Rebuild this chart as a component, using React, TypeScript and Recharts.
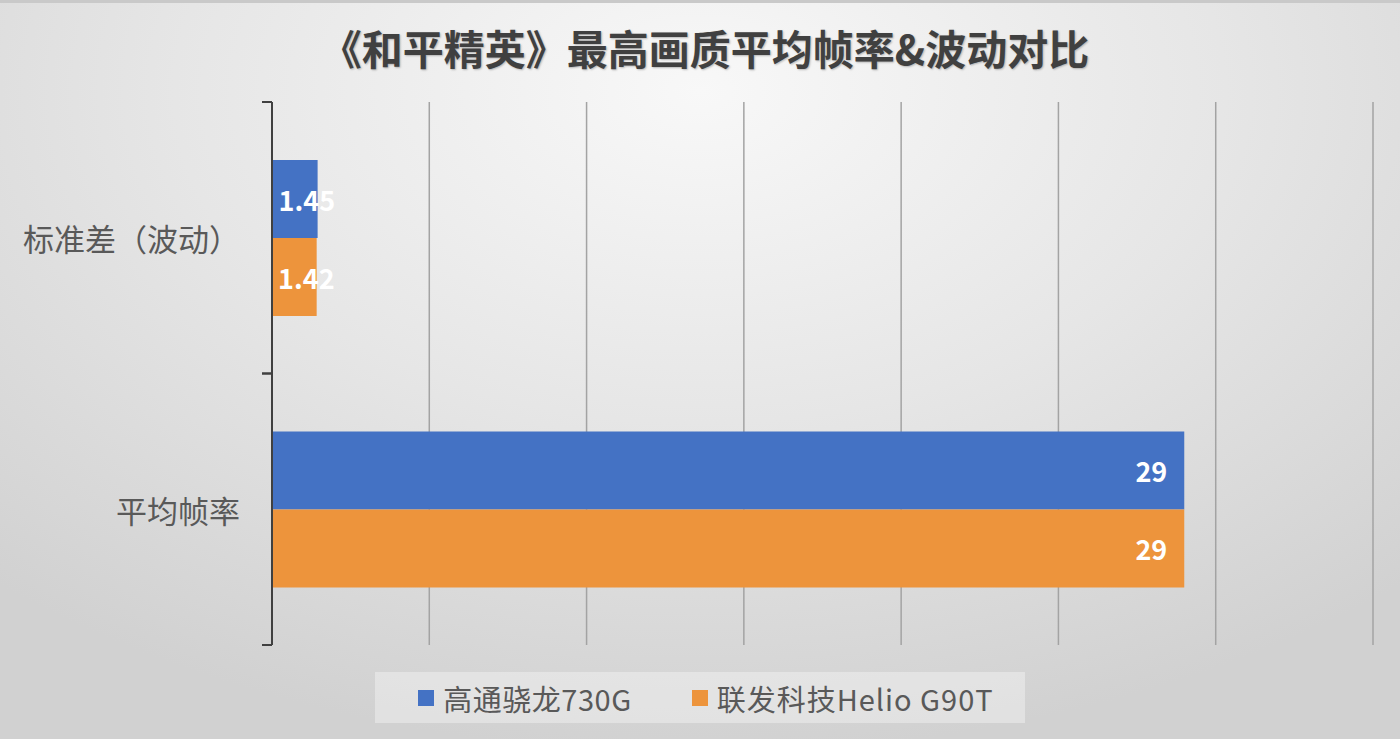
import React from "react";
import { BarChart, Bar, XAxis, YAxis, CartesianGrid, LabelList } from "recharts";

// categories (top to bottom) and series values
const categories = ["标准差（波动）", "平均帧率"];
const snapdragon730G = [1.45, 29];
const helioG90T = [1.42, 29];
const seriesNames = ["高通骁龙730G", "联发科技Helio G90T"];
const xTicks = [0, 5, 10, 15, 20, 25, 30, 35];

const colors = ["#4472C4", "#ED943C"];
const FONT = '"Noto Sans CJK SC", "Noto Sans", sans-serif';

const W = 1400;
const H = 739;
const MARGIN = { top: 102, right: 27, bottom: 94, left: 0 };
const BAND = (H - MARGIN.top - MARGIN.bottom) / categories.length;

const data = categories.map((name, i) => ({
  name,
  a: snapdragon730G[i],
  b: helioG90T[i],
}));

// category label + boundary tick marks (Excel-style ticks between categories)
const CategoryTick = (props: any) => {
  const { x, y, payload } = props;
  return (
    <g>
      <line x1={x - 10} x2={x} y1={y - BAND / 2} y2={y - BAND / 2} stroke="#404040" strokeWidth={2} />
      <line x1={x - 10} x2={x} y1={y + BAND / 2} y2={y + BAND / 2} stroke="#404040" strokeWidth={2} />
      <text x={x - 32} y={y} textAnchor="end" dominantBaseline="central" fill="#595959" fontSize={31} fontFamily={FONT}>
        {payload.value}
      </text>
    </g>
  );
};

const renderBarLabel = (props: any) => {
  const { x, y, width, height, value } = props;
  const fits = width > 80;
  const lx = fits ? x + width - 17 : x + width / 2 + 12;
  return (
    <text
      x={lx}
      y={y + height / 2}
      textAnchor={fits ? "end" : "middle"}
      dominantBaseline="central"
      fill="#fff"
      fontSize={27}
      fontWeight={700}
      fontFamily={FONT}
    >
      {value}
    </text>
  );
};

export default function App() {
  return (
    <div
      style={{
        position: "relative",
        width: W,
        height: H,
        background: "radial-gradient(ellipse 75% 90% at 50% 12%, #f8f8f8 0%, #e6e6e6 50%, #d1d1d1 100%)",
        borderTop: "3px solid #c9c9c9",
        boxSizing: "border-box",
        overflow: "hidden",
      }}
    >
      <style>{`body{margin:0}`}</style>
      <div
        style={{
          position: "absolute",
          top: 14,
          left: 0,
          width: 1410,
          textAlign: "center",
          fontFamily: FONT,
          fontWeight: 700,
          fontSize: 41,
          lineHeight: "60px",
          color: "#404040",
          textShadow: "1px 1px 2px rgba(0,0,0,0.25)",
        }}
      >
        《和平精英》最高画质平均帧率&波动对比
      </div>
      <div style={{ position: "absolute", top: -3, left: 0 }}>
        <BarChart width={W} height={H} data={data} layout="vertical" margin={MARGIN} barGap={0} barSize={78}>
          <CartesianGrid horizontal={false} vertical stroke="#a3a3a3" strokeWidth={1.5} />
          <XAxis type="number" domain={[0, 35]} ticks={xTicks} hide />
          <YAxis
            type="category"
            dataKey="name"
            width={272}
            axisLine={{ stroke: "#404040", strokeWidth: 2 }}
            tickLine={false}
            tickSize={0}
            tickMargin={0}
            tick={<CategoryTick />}
            interval={0}
          />
          <Bar dataKey="a" name={seriesNames[0]} fill={colors[0]} isAnimationActive={false}>
            <LabelList dataKey="a" content={renderBarLabel} />
          </Bar>
          <Bar dataKey="b" name={seriesNames[1]} fill={colors[1]} isAnimationActive={false}>
            <LabelList dataKey="b" content={renderBarLabel} />
          </Bar>
        </BarChart>
      </div>
      {/* legend box */}
      <div
        style={{
          position: "absolute",
          left: 375,
          top: 669,
          width: 650,
          height: 51,
          paddingLeft: 12,
          boxSizing: "border-box",
          background: "rgba(255,255,255,0.35)",
          display: "flex",
          alignItems: "center",
          justifyContent: "center",
          gap: 60,
          fontFamily: FONT,
          fontSize: 29,
          color: "#595959",
        }}
      >
        {seriesNames.map((n, i) => (
          <div key={n} style={{ display: "flex", alignItems: "center" }}>
            <span style={{ width: 16, height: 16, background: colors[i], marginRight: 9, display: "inline-block" }} />
            <span style={{ letterSpacing: i === 1 ? 1 : 0.5 }}>{n}</span>
          </div>
        ))}
      </div>
    </div>
  );
}
